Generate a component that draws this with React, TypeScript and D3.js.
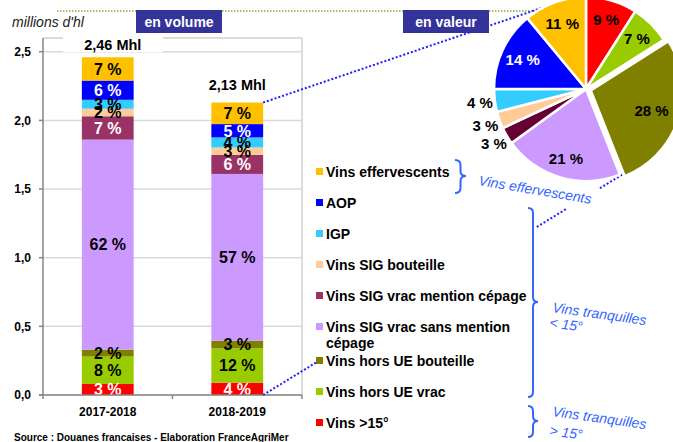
import React from "react";
import * as d3 from "d3";

const categories = ["2017-2018", "2018-2019"];
const seriesNames = [
  "Vins >15°",
  "Vins hors UE vrac",
  "Vins hors UE bouteille",
  "Vins SIG vrac sans mention cépage",
  "Vins SIG vrac mention cépage",
  "Vins SIG bouteille",
  "IGP",
  "AOP",
  "Vins effervescents",
];
const barColors = ["#FF0000", "#99CC00", "#808000", "#CC99FF", "#993366", "#FFCC99", "#33CCFF", "#0000FF", "#FFC000"];
const pieColors = ["#FF0000", "#99CC00", "#808000", "#CC99FF", "#660033", "#FFCC99", "#33CCFF", "#0000FF", "#FFC000"];
const volume1718 = [0.08, 0.2, 0.05, 1.53, 0.17, 0.055, 0.065, 0.14, 0.17];
const volume1819 = [0.09, 0.25, 0.055, 1.215, 0.138, 0.055, 0.073, 0.097, 0.157];
const pctLabels1718 = ["3 %", "8 %", "2 %", "62 %", "7 %", "2 %", "3 %", "6 %", "7 %"];
const pctLabels1819 = ["4 %", "12 %", "3 %", "57 %", "6 %", "3 %", "4 %", "5 %", "7 %"];
const totals = ["2,46 Mhl", "2,13 Mhl"];
const valueShares = [9, 7, 28, 21, 3, 3, 4, 14, 11];
const yTicks = [0, 0.5, 1, 1.5, 2, 2.5];
const yTickLabels = ["0,0", "0,5", "1,0", "1,5", "2,0", "2,5"];
const legendLines = [
  ["Vins effervescents"],
  ["AOP"],
  ["IGP"],
  ["Vins SIG bouteille"],
  ["Vins SIG vrac mention cépage"],
  ["Vins SIG vrac sans mention", "cépage"],
  ["Vins hors UE bouteille"],
  ["Vins hors UE vrac"],
  ["Vins >15°"],
];

const FONT = "'Liberation Sans', Arial, sans-serif";
const BRACE = "#3366FF";

function bracePath(x: number, y1: number, y2: number, ym: number, w: number) {
  const xm = x + w / 2;
  const r = Math.min(5, (ym - y1) / 2, (y2 - ym) / 2);
  return `M${x},${y1} Q${xm},${y1} ${xm},${y1 + r} L${xm},${ym - r} Q${xm},${ym} ${x + w},${ym} Q${xm},${ym} ${xm},${ym + r} L${xm},${y2 - r} Q${xm},${y2} ${x},${y2}`;
}

export default function App() {
  const left = 43, right = 302, top = 38, bottom = 395;
  const y = d3.scaleLinear().domain([0, 2.6]).range([bottom, top]);
  const x = d3.scaleBand<string>().domain(categories).range([left, right]).paddingInner(0.6).paddingOuter(0.3);
  const rows = categories.map((c, i) => {
    const vals = i === 0 ? volume1718 : volume1819;
    const o: any = { cat: c };
    seriesNames.forEach((s, j) => (o[s] = vals[j]));
    return o;
  });
  const stacked = d3.stack<any>().keys(seriesNames)(rows);
  const labels = [pctLabels1718, pctLabels1819];
  const whiteText = [0, 4, 7];

  // pie
  const cx = 586, cy = 89, R = 92;
  const pie = d3.pie<number>().sort(null).value((d) => d)(valueShares);
  const arc = d3.arc<d3.PieArcDatum<number>>().innerRadius(0).outerRadius(R);
  const explode = [0, 0, 5, 0, 0, 0, 0, 0, 0];
  const outside = [4, 5, 6];
  const labelR = [72, 72, 64, 72, 107, 107, 107, 70, 70];

  // dotted connector lines
  const A = { x: x("2018-2019")! + x.bandwidth(), y: y(0) };
  const B = { x: 628, y: 171 };
  const segs = [[0, 0.148], [0.75, 0.832], [0.923, 1]];
  const topR = { x: x("2018-2019")! + x.bandwidth(), y: y(d3.sum(volume1819)) };

  const band = x.bandwidth();
  const legendY = legendLines.map((_, i) => 172 + i * 31 + (i > 5 ? 3 : 0));

  return (
    <svg width={673} height={442} style={{ position: "absolute", left: 0, top: 0, background: "#fff" }} fontFamily={FONT}>
      {/* green dotted header line */}
      <line x1={57} y1={11} x2={545} y2={11} stroke="#7FAF3F" strokeWidth={1.5} strokeDasharray="1.5,1.5" />

      {/* gridlines */}
      {yTicks.map((t) => (
        <line key={t} x1={left} x2={right} y1={y(t)} y2={y(t)} stroke="#D9D9D9" strokeWidth={1.5} />
      ))}
      <line x1={left} x2={right} y1={top} y2={top} stroke="#D0D0D0" strokeWidth={1.5} />
      <line x1={right} x2={right} y1={top} y2={bottom} stroke="#D0D0D0" strokeWidth={1.5} />

      {/* bars */}
      {stacked.map((layer, j) =>
        layer.map((d, i) => (
          <rect key={`${j}-${i}`} x={x(categories[i])} width={band} y={y(d[1])} height={y(d[0]) - y(d[1])} fill={barColors[j]} />
        ))
      )}
      {stacked.map((layer, j) =>
        layer.map((d, i) => (
          <text key={`t${j}-${i}`} x={x(categories[i])! + band / 2} y={(y(d[0]) + y(d[1])) / 2} dy="0.36em" textAnchor="middle" fontSize={16} fontWeight="bold" fill={whiteText.includes(j) ? "#fff" : "#000"}>
            {labels[i][j]}
          </text>
        ))
      )}

      {/* axes */}
      <line x1={left} x2={left} y1={top} y2={bottom} stroke="#868686" strokeWidth={1.5} />
      <line x1={left - 4} x2={right} y1={bottom} y2={bottom} stroke="#868686" strokeWidth={1.5} />
      {yTicks.map((t, i) => (
        <g key={`yt${t}`}>
          <line x1={left - 4} x2={left} y1={y(t)} y2={y(t)} stroke="#868686" strokeWidth={1.5} />
          <text x={31} y={y(t)} dy="0.36em" textAnchor="end" fontSize={12} fontWeight="bold">{yTickLabels[i]}</text>
        </g>
      ))}
      {[left, (left + right) / 2, right].map((v) => (
        <line key={`xt${v}`} x1={v} x2={v} y1={bottom} y2={bottom + 4} stroke="#868686" strokeWidth={1.5} />
      ))}
      {categories.map((c) => (
        <text key={c} x={x(c)! + band / 2} y={416} textAnchor="middle" fontSize={12} fontWeight="bold">{c}</text>
      ))}

      {/* totals */}
      <rect x={63} y={31} width={100} height={21} fill="#fff" />
      {totals.map((t, i) => (
        <text key={t} x={x(categories[i])! + band / 2 + (i === 0 ? 5 : 0)} y={i === 0 ? 50 : 90} textAnchor="middle" fontSize={14.5} fontWeight="bold">{t}</text>
      ))}

      <text x={12} y={27} fontSize={14} fontStyle="italic" fill="#222">millions d'hl</text>

      {/* connector lines */}
      <line x1={topR.x} y1={topR.y} x2={565} y2={0} stroke="#1F1FFF" strokeWidth={2} strokeDasharray="2,2" />
      {segs.map(([a, b], i) => (
        <line key={`s${i}`} x1={A.x + (B.x - A.x) * a} y1={A.y + (B.y - A.y) * a} x2={A.x + (B.x - A.x) * b} y2={A.y + (B.y - A.y) * b} stroke="#1F1FFF" strokeWidth={2} strokeDasharray="2,2" />
      ))}

      {/* header boxes */}
      <rect x={136} y={10} width={86} height={23} fill="#333399" />
      <text x={179} y={27} textAnchor="middle" fontSize={14} fontWeight="bold" fill="#fff">en volume</text>
      <rect x={403} y={10} width={86} height={23} fill="#333399" />
      <text x={446} y={27} textAnchor="middle" fontSize={14} fontWeight="bold" fill="#fff">en valeur</text>

      {/* pie */}
      <g transform={`translate(${cx},${cy})`}>
        {pie.map((p, i) => {
          const a = (p.startAngle + p.endAngle) / 2;
          const dx = Math.sin(a) * explode[i], dy = -Math.cos(a) * explode[i];
          return <path key={`p${i}`} d={arc(p)!} transform={`translate(${dx},${dy})`} fill={pieColors[i]} stroke="#fff" strokeWidth={2.5} strokeLinejoin="round" />;
        })}
        {pie.map((p, i) => {
          const a = (p.startAngle + p.endAngle) / 2;
          const rr = labelR[i] + explode[i];
          return (
            <text key={`pl${i}`} x={Math.sin(a) * rr} y={-Math.cos(a) * rr} dy="0.36em" textAnchor="middle" fontSize={15} fontWeight="bold" fill={i === 7 ? "#fff" : "#000"}>
              {valueShares[i]} %
            </text>
          );
        })}
      </g>

      {/* legend */}
      {legendLines.map((lines, i) => {
        const color = barColors[barColors.length - 1 - i];
        const yy = legendY[i];
        return (
          <g key={`lg${i}`}>
            <rect x={316} y={yy - 4} width={7} height={7} fill={color} />
            {lines.map((l, k) => (
              <text key={k} x={326} y={yy + 5 + k * 16} fontSize={14} fontWeight="bold">{l}</text>
            ))}
          </g>
        );
      })}

      {/* braces */}
      <path d={bracePath(455, 160, 193, 176, 11)} fill="none" stroke={BRACE} strokeWidth={2} />
      <path d={bracePath(528, 208, 397, 302, 10)} fill="none" stroke={BRACE} strokeWidth={2} />
      <path d={bracePath(528, 406, 437, 421, 10)} fill="none" stroke={BRACE} strokeWidth={2} />
      <g fontSize={14} fontStyle="italic" fill={BRACE}>
        <text transform="translate(478,185) rotate(9.5)">Vins effervescents</text>
        <text transform="translate(552,312) rotate(8)">Vins tranquilles</text>
        <text transform="translate(549,327) rotate(8)">&lt; 15°</text>
        <text transform="translate(552,416) rotate(8)">Vins tranquilles</text>
        <text transform="translate(549,435) rotate(8)">&gt; 15°</text>
      </g>

      <text x={14} y={441} fontSize={10} fontWeight="bold">Source : Douanes francaises - Elaboration FranceAgriMer</text>
    </svg>
  );
}
